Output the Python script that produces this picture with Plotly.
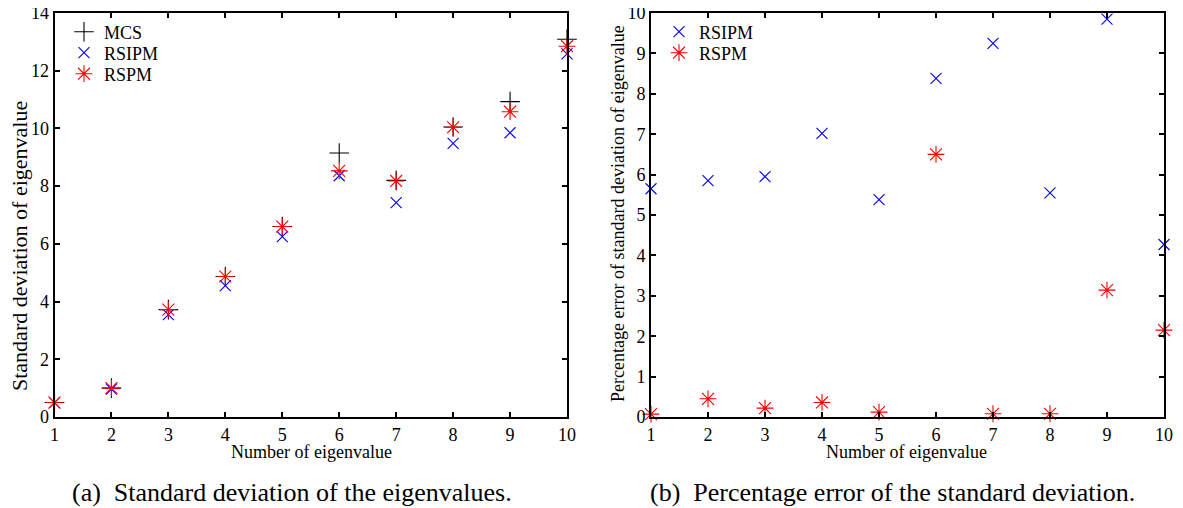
import plotly.graph_objects as go

# --- data --------------------------------------------------------------------
eig_no = [1, 2, 3, 4, 5, 6, 7, 8, 9, 10]

# (a) standard deviation of eigenvalue
std_mcs = [0.5, 1.0, 3.72, 4.87, 6.6, 9.15, 8.2, 10.05, 10.93, 13.09]
std_rsipm = [0.5, 0.97, 3.55, 4.55, 6.25, 8.36, 7.43, 9.48, 9.85, 12.58]
std_rspm = [0.5, 1.0, 3.72, 4.87, 6.6, 8.53, 8.18, 10.04, 10.58, 12.85]

# (b) percentage error of standard deviation
err_rsipm = [5.65, 5.85, 5.95, 7.02, 5.38, 8.38, 9.25, 5.55, 9.85, 4.27]
err_rspm = [0.07, 0.45, 0.22, 0.36, 0.12, 6.5, 0.08, 0.08, 3.14, 2.15]

left_yticks = [0, 2, 4, 6, 8, 10, 12, 14]
right_yticks = [0, 1, 2, 3, 4, 5, 6, 7, 8, 9, 10]

FONT = "Liberation Serif, Times New Roman, serif"
PAGE_MARGIN = 8  # default <body> margin in front of the plotly div
W, H = 1183 - PAGE_MARGIN, 508 - PAGE_MARGIN


# screen pixel -> paper fraction
def px_x(p):
    return (p - PAGE_MARGIN) / W


def px_y(p):
    return 1 - (p - PAGE_MARGIN) / H


fig = go.Figure()

styles = {
    "MCS": dict(symbol="cross-thin-open", size=14, color="black"),
    "RSIPM": dict(symbol="x-thin-open", size=11, color="blue"),
    "RSPM": dict(symbol="asterisk-open", size=14, color="red"),
}


def add(x, y, name, axis, legend):
    s = styles[name]
    fig.add_trace(go.Scatter(
        x=x, y=y, mode="markers", name=name, xaxis="x" + axis, yaxis="y" + axis,
        legend=legend, cliponaxis=False,
        marker=dict(symbol=s["symbol"], size=s["size"], color=s["color"],
                    line=dict(width=1.1, color=s["color"])),
    ))


# one single-entry legend per item so the row spacing can match the original
add(eig_no, std_mcs, "MCS", "", "legend")
add(eig_no, std_rsipm, "RSIPM", "", "legend2")
add(eig_no, std_rspm, "RSPM", "", "legend3")
add(eig_no, err_rsipm, "RSIPM", "2", "legend4")
add(eig_no, err_rspm, "RSPM", "2", "legend5")


def leg(x, y):
    return dict(x=px_x(x), y=px_y(y), xanchor="left", yanchor="middle", visible=True,
                bgcolor="rgba(0,0,0,0)", borderwidth=0,
                font=dict(family=FONT, size=18, color="black"))


axis_common = dict(
    showline=True, linecolor="black", linewidth=2, mirror="ticks",
    ticks="inside", ticklen=5, tickwidth=1.5, tickcolor="black",
    showgrid=False, zeroline=False, automargin=False, ticklabeloverflow="allow",
    tickfont=dict(family=FONT, size=18, color="black"),
)
ytop, ybot = px_y(13), px_y(417)


def note(text, x, y, size, angle=0, xanchor="center"):
    return dict(text=text, xref="paper", yref="paper", x=px_x(x), y=px_y(y),
                xanchor=xanchor, yanchor="middle", textangle=angle, showarrow=False,
                font=dict(family=FONT, size=size, color="black"))


fig.update_layout(
    width=W, height=H,
    margin=dict(l=0, r=0, t=0, b=0),
    paper_bgcolor="white", plot_bgcolor="white",
    font=dict(family=FONT, color="black"),
    showlegend=True,
    xaxis=dict(domain=[px_x(54.5), px_x(567)], range=[1, 10], tickvals=eig_no, **axis_common),
    yaxis=dict(domain=[ybot, ytop], range=[0, 14], tickvals=left_yticks, **axis_common),
    xaxis2=dict(domain=[px_x(651), px_x(1164)], range=[1, 10], tickvals=eig_no, anchor="y2",
                **axis_common),
    yaxis2=dict(domain=[ybot, ytop], range=[0, 10], tickvals=right_yticks, anchor="x2",
                **axis_common),
    legend=leg(64, 32), legend2=leg(64, 53), legend3=leg(64, 74),
    legend4=leg(659, 32), legend5=leg(659, 53),
    annotations=[
        note("Number of eigenvalue", 311, 452, 18),
        note("Number of eigenvalue", 907, 452, 18),
        note("Standard deviation of eigenvalue", 19, 246, 22, angle=-90),
        note("Percentage error of standard deviation of eigenvalue", 618, 214, 18, angle=-90),
        note("(a)\u00a0\u00a0Standard deviation of the eigenvalues.", 70, 492, 26, xanchor="left"),
        note("(b)\u00a0\u00a0Percentage error of the standard deviation.", 648, 492, 26,
             xanchor="left"),
    ],
)

fig.write_html("out.html")
